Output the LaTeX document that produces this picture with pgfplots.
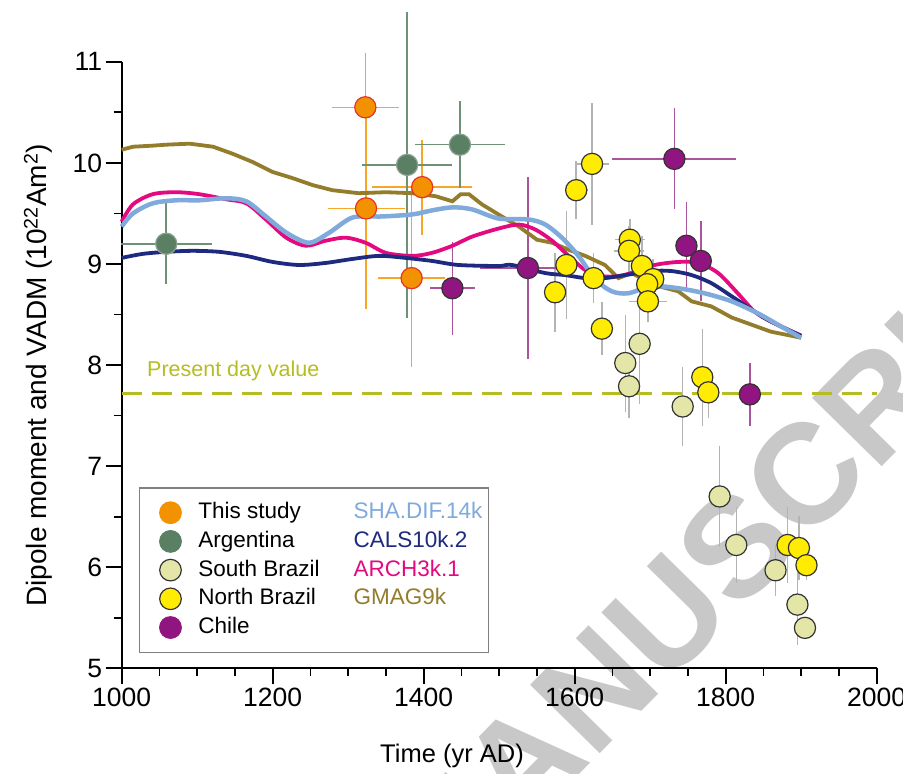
\documentclass[border=0pt]{standalone}
\usepackage{fontspec}
\setmainfont{Liberation Sans}
\usepackage{pgfplots}
\usepackage{pgfplotstable}
\pgfplotsset{compat=1.18}

\definecolor{cOr}{HTML}{F39200}
\definecolor{cOrE}{HTML}{E6332A}
\definecolor{cOrBar}{HTML}{F7A626}
\definecolor{cAr}{HTML}{5B7F63}
\definecolor{cArE}{HTML}{8AA391}
\definecolor{cArBar}{HTML}{6E9276}
\definecolor{cSB}{HTML}{E3E6A6}
\definecolor{cNB}{HTML}{FFEC00}
\definecolor{cCh}{HTML}{901580}
\definecolor{cChBar}{HTML}{A8559D}
\definecolor{cGrBar}{HTML}{B4B4B4}
\definecolor{cEdge}{HTML}{333333}
\definecolor{cSHA}{HTML}{7FAADB}
\definecolor{cCALS}{HTML}{1E2A80}
\definecolor{cARCH}{HTML}{E5097F}
\definecolor{cGMAG}{HTML}{937C2B}
\definecolor{cPres}{HTML}{B5BD22}
\definecolor{cWm}{HTML}{C8C8C8}

% x y ex ey
\pgfplotstableread{
x y ex ey
1322.7 10.55 44 0.54
1323.6 9.55 51 1.00
1398 9.76 66 0.47
1384 8.86 44 0.88
}\thisstudy
\pgfplotstableread{
x y ex ey
1059 9.20 60 0.40
1378 9.98 60 1.51
1448 10.18 60 0.43
}\argentina
\pgfplotstableread{
x y ex ey
1686 8.21 0 0.60
1667 8.02 0 0.48
1672 7.79 0 0.31
1743 7.59 0 0.39
1792 6.70 0 0.50
1814 6.22 0 0.38
1866 5.97 0 0.25
1895 5.63 0 0.40
1905 5.40 0 0.10
}\southbrazil
\pgfplotstableread{
x y ex ey
1623 9.99 22 0.60
1602 9.73 15 0.29
1589 8.99 0 0.53
1574 8.72 0 0.39
1625 8.86 0 0.25
1636 8.36 0 0.26
1673 9.24 20 0.20
1672 9.13 20 0.25
1689 8.98 0 0.30
1704 8.85 0 0.20
1696 8.80 0 0.25
1697 8.63 25 0.20
1769 7.88 0 0.48
1777 7.73 0 0.25
1882 6.22 0 0.38
1897 6.19 0 0.32
1907 6.02 0 0.15
}\northbrazil
\pgfplotstableread{
x y ex ey
1438 8.76 30 0.46
1538 8.96 64 0.90
1732 10.04 82 0.50
1748 9.18 0 0.43
1767 9.03 0 0.40
1832 7.71 0 0.31
}\chile

\pgfplotsset{
  ebar/.style={only marks, mark=none, forget plot,
    error bars/.cd, x dir=both, x explicit, y dir=both, y explicit,
    error mark=none, error bar style={draw=#1, solid, line width=1.5pt}},
  pt/.style n args={2}{only marks, mark=*, mark size=10.6pt,
    mark options={fill=#1, draw=#2, line width=1.2pt}},
  lgpt/.style n args={2}{only marks, mark=*, mark size=10.8pt,
    mark options={fill=#1, draw=#2, line width=1.2pt},
    legend image code/.code={\path (0pt,0pt); \draw[##1] plot coordinates {(24pt,0pt)};}},
}

\begin{document}
\begin{tikzpicture}
% watermark (underneath)
\begin{scope}
\clip (-121.7pt,-105.7pt) rectangle (781.3pt,668.3pt);
\node[anchor=west, rotate=45.5, text=cWm, inner sep=0pt,
  font=\fontsize{142}{142}\selectfont\bfseries] at (282.3pt,-215.7pt) {MANUSCRIPT};
\end{scope}
\begin{axis}[
  at={(0pt,0pt)}, anchor=south west, name=ax,
  scale only axis, width=755pt, height=606.5pt,
  xmin=1000, xmax=2000, ymin=5, ymax=11,
  axis x line=bottom, axis y line=left,
  axis line style={-, line width=1.8pt, black},
  xtick={1000,1200,...,2000}, minor x tick num=3,
  ytick={5,6,...,11}, minor y tick num=1,
  tick align=outside, major tick length=16pt, minor tick length=8pt,
  tick style={line width=1.8pt, black},
  tick label style={font=\fontsize{26.5}{30}\selectfont},
  /pgf/number format/assume math mode=true,
  /pgf/number format/1000 sep={},
  clip=false,
  xlabel={Time (yr AD)},
  xlabel style={font=\fontsize{25.5}{30}\selectfont, at={(axis description cs:0.4375,0)}, anchor=base, yshift=-94pt, inner sep=0pt},
  ylabel={Dipole moment and VADM (10\textsuperscript{22}Am\textsuperscript{2})},
  ylabel style={font=\fontsize{28}{32}\selectfont, at={(axis description cs:-0.0995,0.483)}, anchor=base, inner sep=0pt},
  legend style={at={(0.0233,0.2984)}, anchor=north west, draw=gray, line width=1.2pt,
    fill=white, font=\fontsize{22.5}{27}\selectfont, inner xsep=6pt, inner ysep=14pt,
    row sep=7.1pt,
    nodes={text height=16.5pt, text depth=4.5pt, inner sep=0pt},
    /tikz/every odd column/.append style={column sep=17pt},
    /tikz/every even column/.append style={column sep=17pt}},
  legend cell align=left,
  legend columns=5, transpose legend,
]
% legend images
\addlegendimage{lgpt={cOr}{cOr}}\addlegendentry{This study}
\addlegendimage{lgpt={cAr}{cAr}}\addlegendentry{Argentina}
\addlegendimage{lgpt={cSB}{cEdge}}\addlegendentry{South Brazil}
\addlegendimage{lgpt={cNB}{cEdge}}\addlegendentry{North Brazil}
\addlegendimage{lgpt={cCh}{cCh}}\addlegendentry{Chile}
\addlegendimage{legend image code/.code={}}\addlegendentry[text=cSHA]{SHA.DIF.14k}
\addlegendimage{legend image code/.code={}}\addlegendentry[text=cCALS]{CALS10k.2}
\addlegendimage{legend image code/.code={}}\addlegendentry[text=cARCH]{ARCH3k.1}
\addlegendimage{legend image code/.code={}}\addlegendentry[text=cGMAG]{GMAG9k}

% present day value
\addplot[forget plot, cPres, line width=2.8pt, dash pattern=on 20pt off 10pt] coordinates {(1000,7.72) (2000,7.72)};
\node[anchor=base west, inner sep=0pt, text=cPres, font=\fontsize{21.5}{26}\selectfont] at (axis cs:1033.5,7.89) {Present day value};

% error bars
\addplot[ebar=cOrBar] table[x=x,y=y,x error=ex,y error=ey] {\thisstudy};
\addplot[ebar=cArBar] table[x=x,y=y,x error=ex,y error=ey] {\argentina};
\addplot[ebar=cGrBar] table[x=x,y=y,x error=ex,y error=ey] {\southbrazil};
\addplot[ebar=cGrBar] table[x=x,y=y,x error=ex,y error=ey] {\northbrazil};
\addplot[ebar=cChBar] table[x=x,y=y,x error=ex,y error=ey] {\chile};

% model curves
\addplot[forget plot, cGMAG, line width=3.8pt] coordinates {
(1000,10.13) (1015,10.16) (1040,10.17) (1059,10.18) (1090,10.19) (1121,10.16) (1147,10.09) (1173,10.01) (1200,9.91) (1226,9.85) (1253,9.78) (1279,9.73) (1314,9.70) (1350,9.71) (1385,9.70) (1416,9.67) (1438,9.62) (1449,9.69) (1460,9.69) (1477,9.59) (1499,9.49) (1526,9.37) (1550,9.24) (1570,9.21) (1592,9.14) (1614,9.08) (1640,8.99) (1658,8.86) (1675,8.91) (1711,8.78) (1737,8.73) (1755,8.63) (1781,8.58) (1808,8.47) (1834,8.40) (1860,8.33) (1900,8.27)};
\addplot[forget plot, cARCH, line width=3.8pt, smooth] coordinates {
(1000,9.42) (1015,9.59) (1041,9.69) (1072,9.71) (1103,9.69) (1138,9.64) (1165,9.60) (1191,9.44) (1218,9.26) (1244,9.18) (1270,9.23) (1297,9.26) (1323,9.21) (1350,9.11) (1385,9.08) (1411,9.11) (1438,9.18) (1464,9.27) (1499,9.35) (1526,9.39) (1548,9.34) (1570,9.23) (1592,9.08) (1614,8.94) (1636,8.88) (1658,8.88) (1684,8.93) (1706,8.99) (1737,9.02) (1764,9.01) (1790,8.91) (1816,8.71) (1838,8.53) (1860,8.43) (1900,8.29)};
\addplot[forget plot, cCALS, line width=3.8pt, smooth] coordinates {
(1000,9.06) (1028,9.10) (1059,9.12) (1094,9.13) (1129,9.12) (1165,9.08) (1200,9.02) (1235,8.99) (1270,9.01) (1306,9.05) (1341,9.08) (1376,9.06) (1411,9.03) (1446,8.99) (1499,8.98) (1517,8.99) (1561,8.91) (1587,8.89) (1614,8.86) (1640,8.86) (1667,8.89) (1702,8.93) (1728,8.93) (1755,8.89) (1781,8.81) (1808,8.68) (1834,8.55) (1860,8.43) (1900,8.29)};
\addplot[forget plot, cSHA, line width=4.5pt, smooth] coordinates {
(1000,9.37) (1015,9.50) (1041,9.60) (1072,9.63) (1103,9.63) (1138,9.65) (1165,9.62) (1191,9.47) (1218,9.31) (1248,9.21) (1275,9.31) (1306,9.46) (1345,9.47) (1385,9.49) (1411,9.53) (1438,9.56) (1464,9.54) (1499,9.45) (1539,9.44) (1561,9.39) (1583,9.26) (1605,9.08) (1627,8.85) (1649,8.73) (1671,8.71) (1702,8.78) (1737,8.76) (1772,8.71) (1808,8.63) (1843,8.51) (1869,8.40) (1900,8.27)};

% data markers
\addplot[forget plot, pt={cOr}{cOrE}] table[x=x,y=y] {\thisstudy};
\addplot[forget plot, pt={cAr}{cArE}] table[x=x,y=y] {\argentina};
\addplot[forget plot, pt={cSB}{cEdge}] table[x=x,y=y] {\southbrazil};
\addplot[forget plot, pt={cNB}{cEdge}] table[x=x,y=y] {\northbrazil};
\addplot[forget plot, pt={cCh}{cEdge}] table[x=x,y=y] {\chile};
\end{axis}
\pgfresetboundingbox
\useasboundingbox (-121.7pt,-105.7pt) rectangle (781.3pt,668.3pt);
\end{tikzpicture}
\end{document}
